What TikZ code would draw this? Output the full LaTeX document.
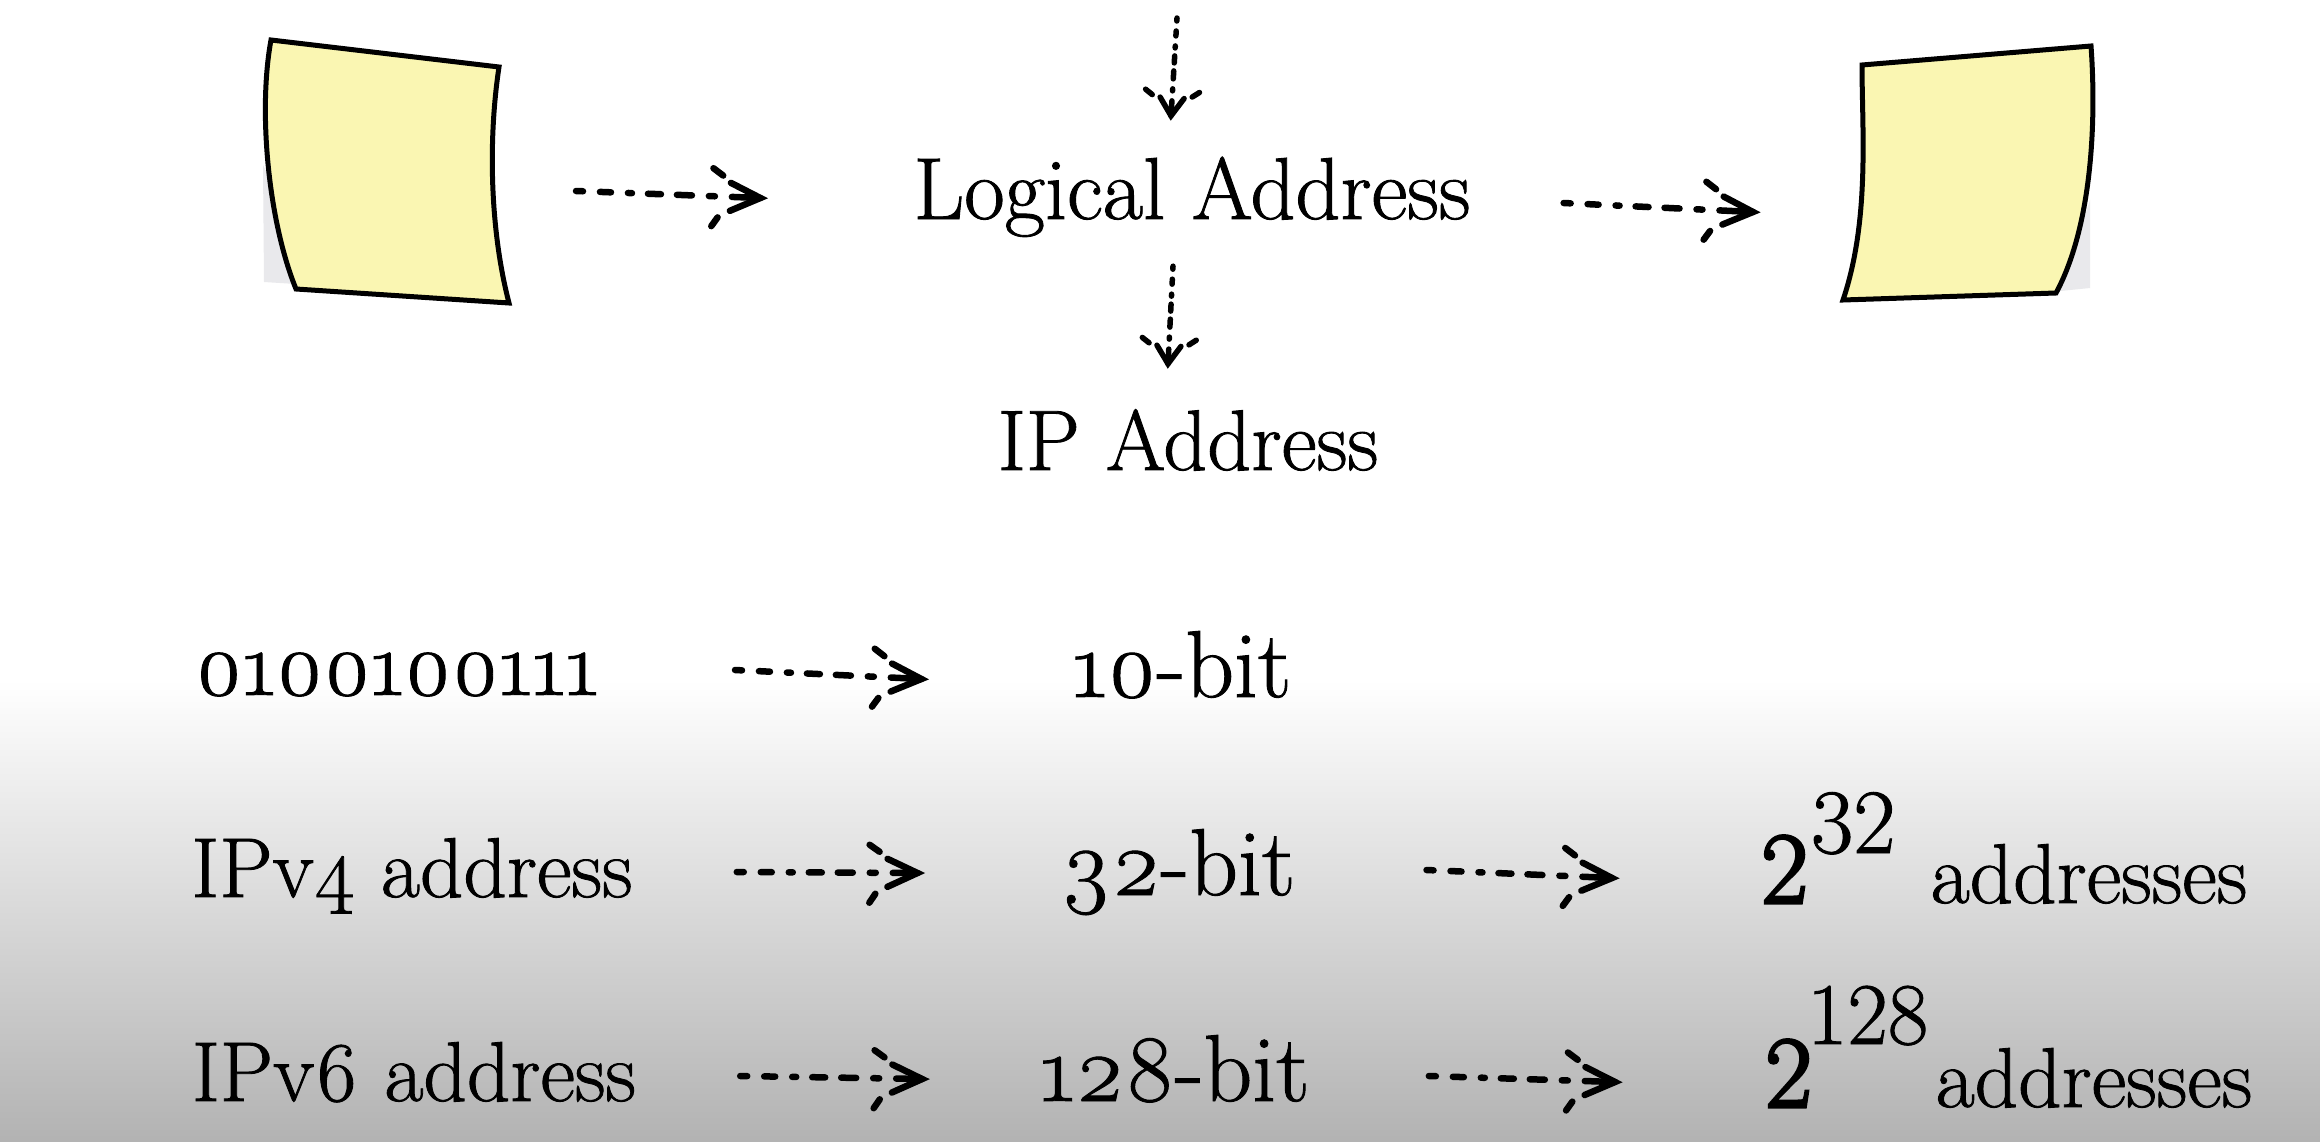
\documentclass[tikz,border=0pt]{standalone}
\usepackage{fontspec}
\setmainfont{Latin Modern Roman}[Numbers=OldStyle,FakeBold=1.0]
\newfontfamily\liningfont{Latin Modern Roman}[FakeBold=1.0]
\newfontfamily\basefont{Latin Modern Roman}[FakeBold=3.0]
\usetikzlibrary{decorations.markings,shadings}

\definecolor{notefill}{HTML}{FAF6B2}
\definecolor{noteshade}{HTML}{E9E9EC}

\newcommand{\bigpower}[4]{{\basefont\fontsize{102}{102}\selectfont 2}\kern#1\raisebox{#2}{\liningfont\fontsize{#3}{#3}\selectfont #4}}

\tikzset{
  addrlabel/.style={inner sep=0pt, text height=50pt, text depth=0pt, anchor=base, font=\fontsize{88}{88}\selectfont},
  rowlabel/.style={addrlabel, font=\fontsize{85}{85}\selectfont},
  bitlabel/.style={addrlabel, font=\fontsize{95}{95}\selectfont},
  powerlabel/.style={addrlabel, anchor=base west},
  notesheet/.style={draw=black, fill=notefill, line width=5pt, line join=miter},
  dasharrow/.style={line width=6.5pt, line cap=round,
    dash pattern=on 7pt off 17pt on 11pt off 17pt on 4pt off 16pt on 13pt off 16pt on 15pt off 17pt on 6pt off 17pt on 200pt off 10pt,
    postaction={decorate}, decoration={markings, mark=at position 1 with {
      \draw[solid] (-30pt,14pt) -- (0pt,0pt) -- (-30pt,-14pt);
      \draw[solid] (-48pt,28pt) -- (-38pt,21pt);
      \draw[solid] (-48pt,-30pt) -- (-42pt,-21pt);
    }}},
  droparrow/.style={line width=5.5pt, line cap=round,
    dash pattern=on 3pt off 10pt on 5pt off 10pt on 2pt off 8pt on 7pt off 8pt on 8pt off 10pt on 2pt off 10pt on 200pt off 10pt,
    postaction={decorate}, decoration={markings, mark=at position 1 with {
      \draw[solid] (-18pt,12pt) -- (0pt,0pt) -- (-18pt,-12pt);
      \draw[solid] (-25pt,27pt) -- (-20pt,20pt);
      \draw[solid] (-25pt,-27pt) -- (-20pt,-20pt);
    }}},
}

\begin{document}
\begin{tikzpicture}[x=1pt,y=-1pt]
  \useasboundingbox (0,0) rectangle (2320,1142);
  % backdrop
  \fill[white] (0,0) rectangle (2320,680);
  \shade[top color=white, bottom color=black!30] (0,680) rectangle (2320,1142);

  % sticky notes
  \fill[noteshade] (263,165) -- (264,282) -- (296,284) -- (280,200) -- cycle;
  \draw[notesheet] (271,40) -- (499,67) .. controls (488,140) and (490,230) .. (509,303)
     -- (296,289) .. controls (268,220) and (258,110) .. (271,40) -- cycle;
  \fill[noteshade] (2060,291) -- (2090,288) -- (2090,200) -- cycle;
  \draw[notesheet] (1862,65) -- (2091,46) .. controls (2097,130) and (2090,230) .. (2056,293)
     -- (1843,300) .. controls (1870,220) and (1862,130) .. (1862,65) -- cycle;

  % labels
  \node[addrlabel] (logical) at (1192,219) {Logical Address};
  \node[addrlabel, font=\fontsize{86}{86}\selectfont] (ipaddr) at (1188,470) {IP Address};
  \node[bitlabel, font=\fontsize{91}{91}\selectfont] (bitstr) at (397,695) {0100100111};
  \node[bitlabel] (tenbit) at (1182,697) {10-bit};
  \node[rowlabel] (ipfour) at (412,897) {IPv4 address};
  \node[bitlabel] (thirtytwo) at (1178,895) {32-bit};
  \node[rowlabel] (ipsix) at (414,1101) {IPv6 address};
  \node[bitlabel] (onetwoeight) at (1175,1101) {128-bit};
  \node[powerlabel] (powfour) at (1761,903) {\bigpower{3pt}{50pt}{92}{32}};
  \node[rowlabel] (addrfour) at (2089,903) {addresses};
  \node[powerlabel] (powsix) at (1765,1107) {\bigpower{-5pt}{63pt}{88}{128}};
  \node[rowlabel] (addrsix) at (2094,1107) {addresses};

  % arrow ends
  \coordinate (noteleft) at (576,191);
  \coordinate (noteright) at (1753,212);
  \coordinate (topend) at (1177,18);

  % arrows
  \draw[dasharrow] (noteleft) -- ([xshift=-153pt,yshift=-4pt]logical.west);
  \draw[dasharrow] ([xshift=93pt,yshift=-9pt]logical.east) -- (noteright);
  \draw[droparrow] (topend) -- ([xshift=-21pt,yshift=53pt]logical.north);
  \draw[droparrow] ([xshift=-19pt,yshift=-47pt]logical.south) -- ([xshift=-20pt,yshift=56pt]ipaddr.north);
  \draw[dasharrow] ([xshift=136pt]bitstr.east) -- ([xshift=-151pt,yshift=-7pt]tenbit.west);
  \draw[dasharrow] ([xshift=104pt]ipfour.east) -- ([xshift=-143pt,yshift=-3pt]thirtytwo.west);
  \draw[dasharrow] ([xshift=131pt]thirtytwo.east) -- ([xshift=-149pt]powfour.west);
  \draw[dasharrow] ([xshift=104pt]ipsix.east) -- ([xshift=-118pt,yshift=-3pt]onetwoeight.west);
  \draw[dasharrow] ([xshift=119pt]onetwoeight.east) -- ([xshift=-150pt]powsix.west);
\end{tikzpicture}
\end{document}
